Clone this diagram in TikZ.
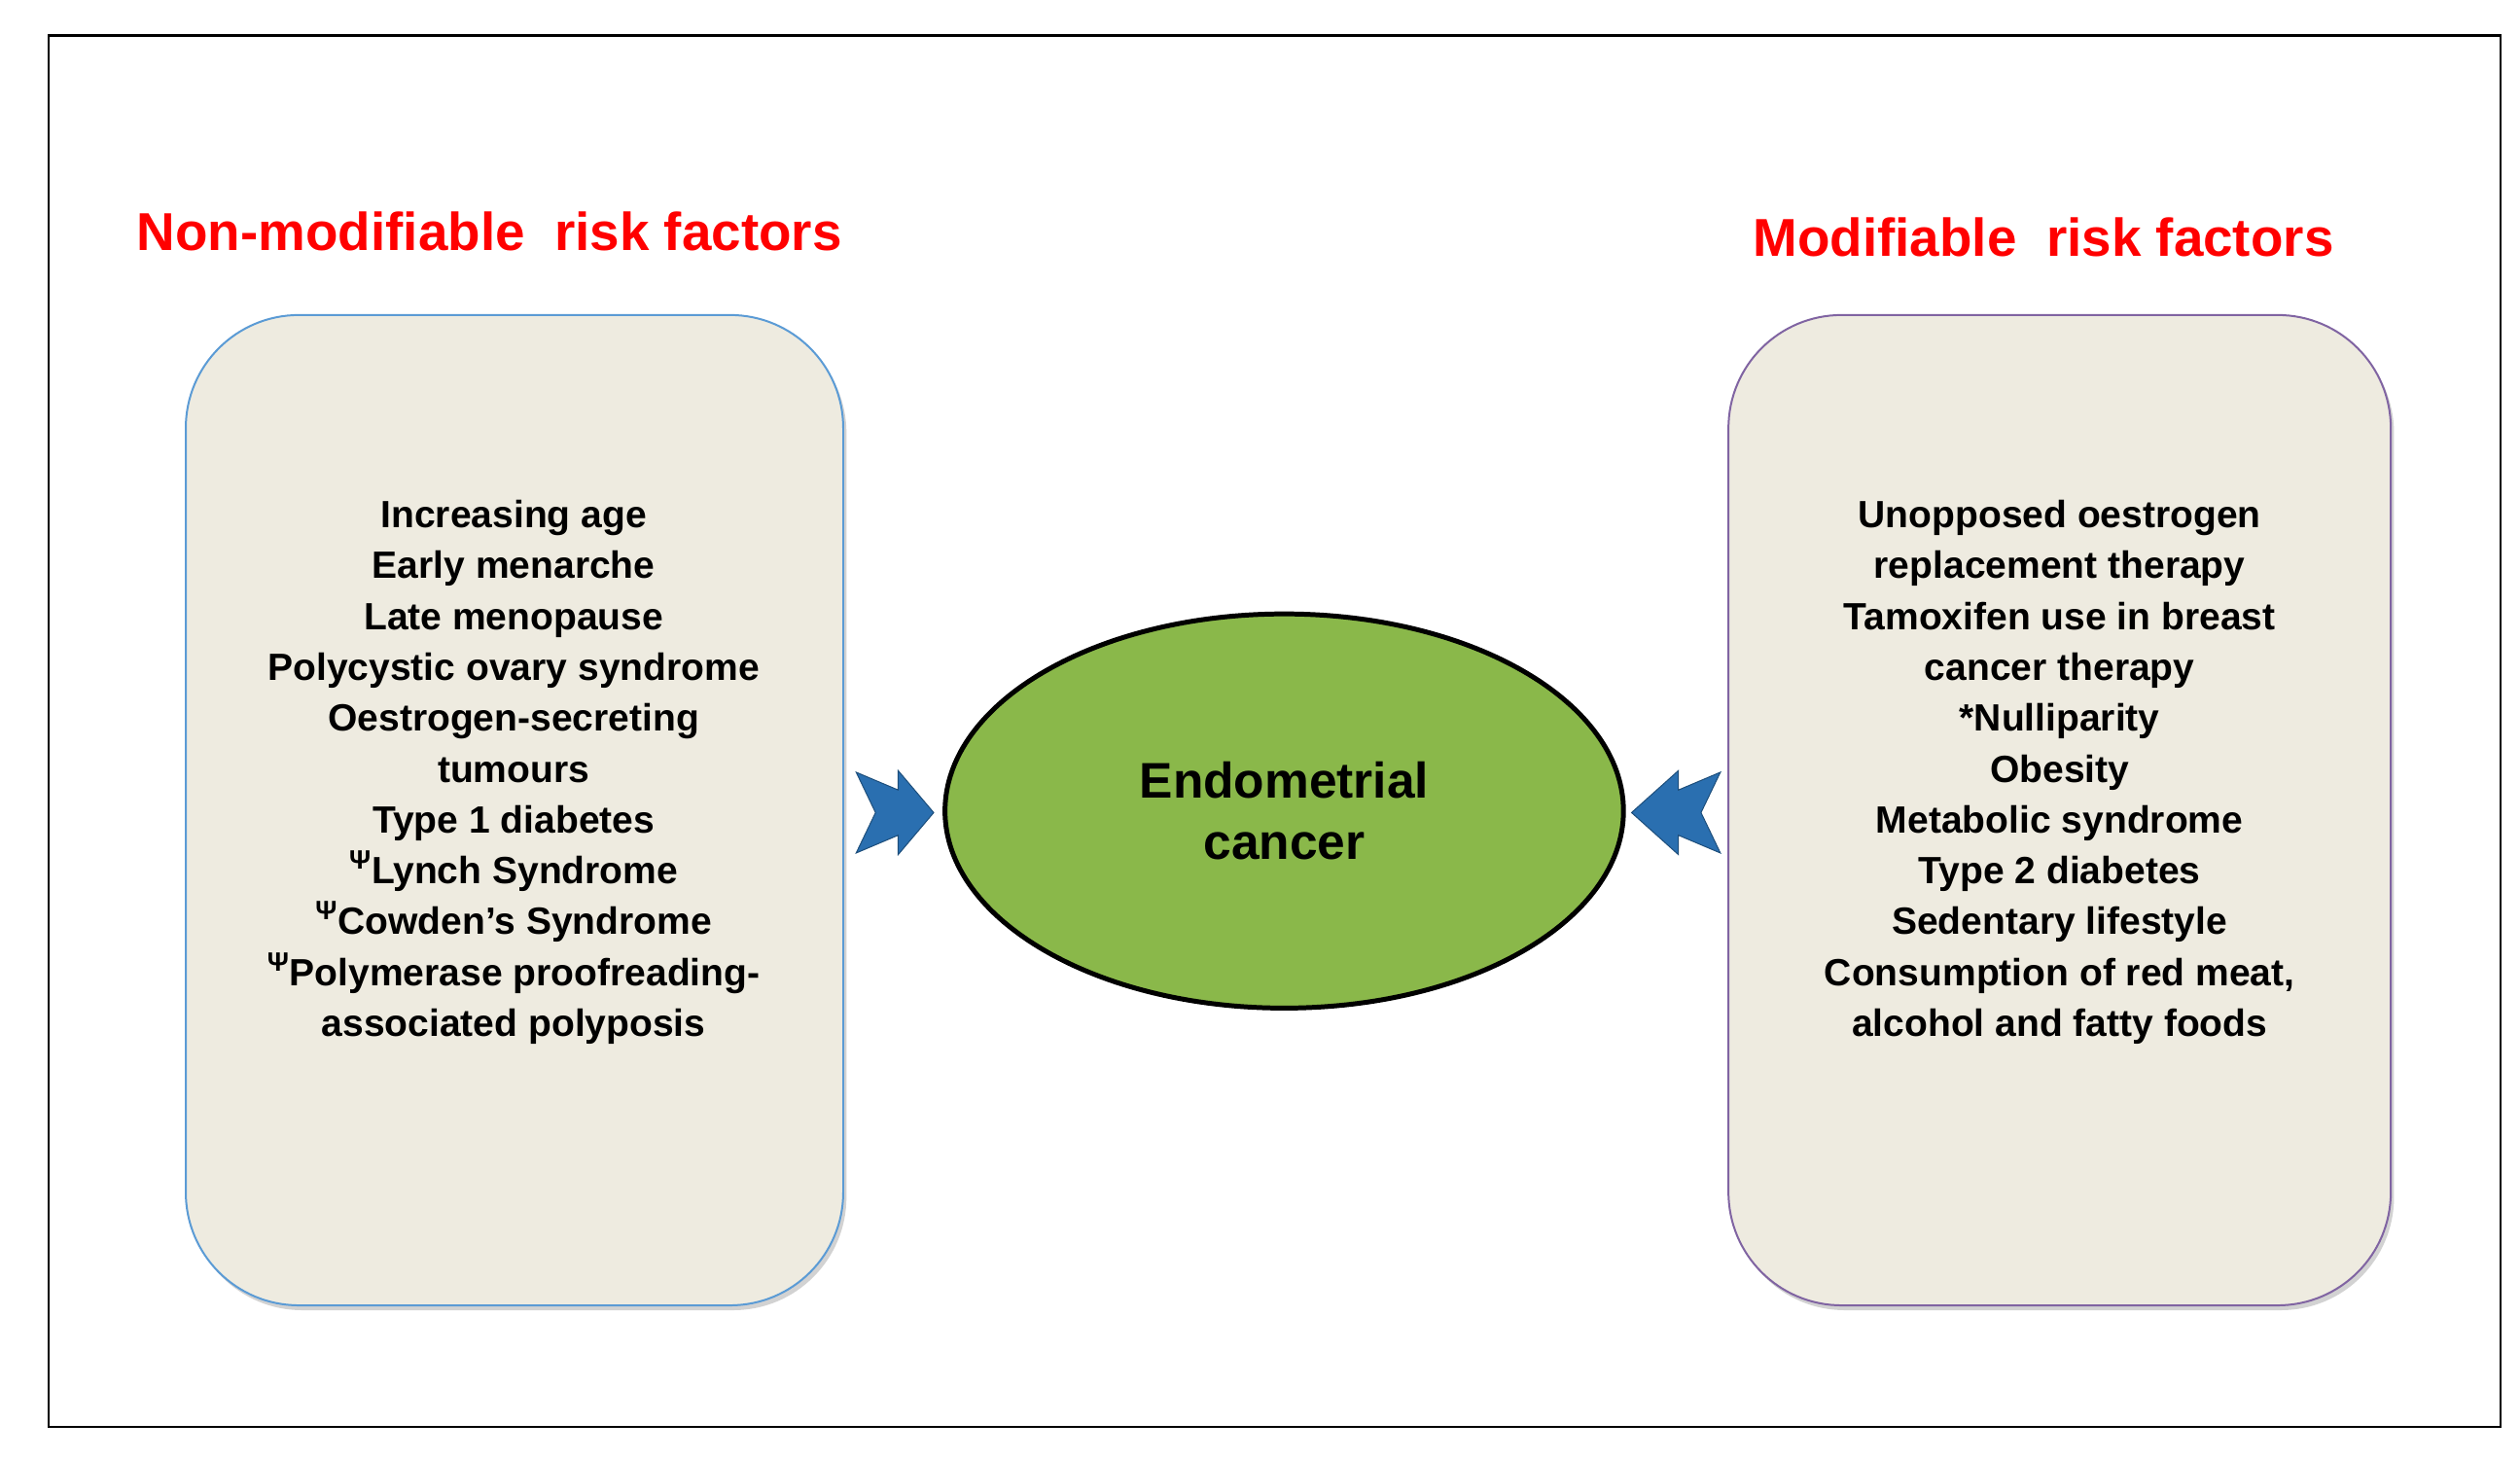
\documentclass[tikz,border=0pt]{standalone}
\usepackage{fontspec}
\setmainfont{Liberation Sans}
\usetikzlibrary{shadows}
\definecolor{boxfill}{HTML}{EEEBE0}
\definecolor{lblue}{HTML}{5B9BD5}
\definecolor{lpurple}{HTML}{8064A2}
\definecolor{egreen}{HTML}{8AB84A}
\definecolor{arrblue}{HTML}{2A6FB0}
\tikzset{
  riskbox/.style={draw, line width=1.2pt, fill=boxfill, rounded corners=70pt, drop shadow={shadow xshift=2pt, shadow yshift=-3pt, opacity=0.35}},
  title/.style={text=red, font=\fontsize{33}{38}\selectfont\bfseries},
  listtxt/.style={align=center, font=\fontsize{23.5}{31.5}\selectfont\bfseries},
  chev/.style={fill=arrblue, draw=arrblue!70!black, line width=0.6pt}
}
\begin{document}
\begin{tikzpicture}[x=1pt,y=-1pt]
\useasboundingbox (0,0) rectangle (1560,903);
\fill[white] (0,0) rectangle (1560,903);
\draw[line width=1.3pt] (30,22) rectangle (1548,883);
\node[title] (lt) at (303,143) {Non-modifiable\ \ risk factors};
\node[title] (rt) at (1265,147) {Modifiable\ \ risk factors};
\draw[riskbox, draw=lblue] (115,195) rectangle (522,808);
\draw[riskbox, draw=lpurple] (1070,195) rectangle (1480,808);
\node[listtxt] (ll) at (318,478) {Increasing age\\Early menarche\\Late menopause\\Polycystic ovary syndrome\\Oestrogen-secreting\\tumours\\Type 1 diabetes\\\textsuperscript{Ψ}Lynch Syndrome\\\textsuperscript{Ψ}Cowden’s Syndrome\\\textsuperscript{Ψ}Polymerase proofreading-\\associated polyposis};
\node[listtxt] (rl) at (1275,478) {Unopposed oestrogen\\replacement therapy\\Tamoxifen use in breast\\cancer therapy\\*Nulliparity\\Obesity\\Metabolic syndrome\\Type 2 diabetes\\Sedentary lifestyle\\Consumption of red meat,\\alcohol and fatty foods};
\draw[fill=egreen, line width=3pt] (795,502) ellipse [x radius=210, y radius=122];
\node[align=center, font=\fontsize{31}{38}\selectfont\bfseries] (ec) at (795,502) {Endometrial\\cancer};
\draw[chev] (530,478) -- (556,489) -- (556,477) -- (578,503) -- (556,529) -- (556,517) -- (530,528) -- (542,503) -- cycle;
\draw[chev] (1065,478) -- (1039,489) -- (1039,477) -- (1010,503) -- (1039,529) -- (1039,517) -- (1065,528) -- (1053,503) -- cycle;
\end{tikzpicture}
\end{document}
